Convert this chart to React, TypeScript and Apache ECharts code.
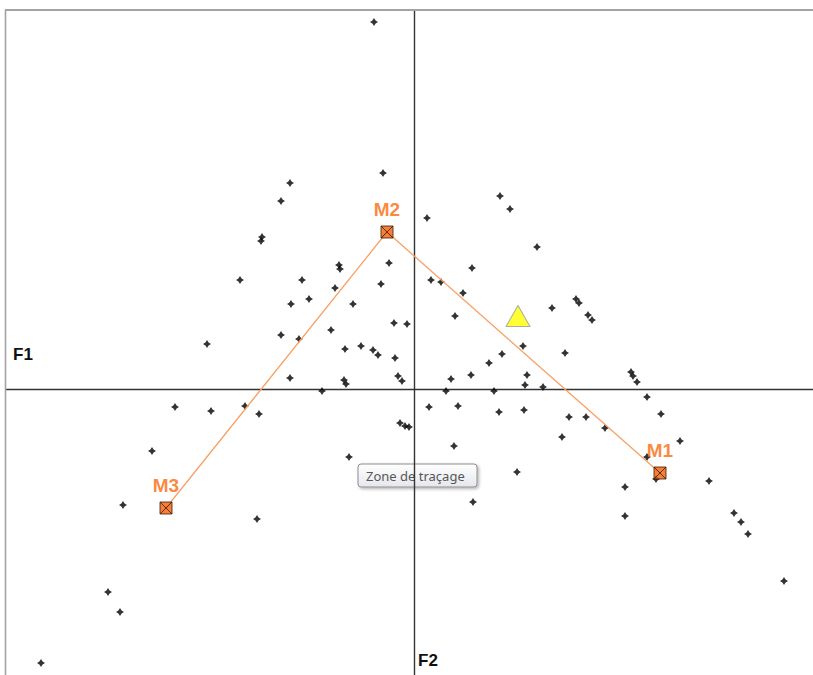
import React, { useEffect, useRef } from "react";
import * as echarts from "echarts";

// Factor-plane coordinates (F1 horizontal, F2 vertical) of the observations
const observations: [number, number][] = [
  [-0.40, 3.67], [-0.31, 2.16], [-1.24, 2.06], [-1.33, 1.88], [-1.52, 1.52],
  [-1.53, 1.48], [-1.74, 1.09], [-2.07, 0.45], [-1.12, 1.09], [-0.75, 1.24],
  [-0.74, 1.20], [-0.25, 1.26], [-0.33, 1.05], [-0.79, 1.01], [-1.05, 0.90],
  [-1.23, 0.85], [-0.61, 0.85], [-0.20, 0.66], [-0.07, 0.65], [-1.33, 0.54],
  [-1.15, 0.50], [-0.83, 0.59], [-0.69, 0.40], [-0.53, 0.43], [-0.41, 0.39],
  [-0.36, 0.34], [-0.19, 0.31], [-1.24, 0.11], [-0.70, 0.09], [-0.68, 0.05],
  [-0.16, 0.13], [-0.12, 0.08], [-0.92, -0.02], [-2.03, -0.22], [-1.69, -0.17],
  [-1.55, -0.25], [-0.14, -0.34], [-0.09, -0.37], [-0.05, -0.38], [0.13, 1.71],
  [0.17, 1.09], [0.15, -0.18], [0.86, 1.93], [0.96, 1.80], [1.23, 1.42],
  [0.58, 1.21], [0.27, 1.07], [0.49, 0.96], [0.41, 0.73], [1.62, 0.90],
  [1.65, 0.86], [1.38, 0.81], [1.74, 0.74], [1.78, 0.69], [1.09, 0.43],
  [0.88, 0.35], [0.75, 0.26], [1.51, 0.36], [0.37, 0.10], [0.57, 0.14],
  [1.13, 0.14], [1.11, 0.04], [1.29, 0.02], [0.32, -0.02], [0.80, -0.02],
  [2.17, 0.17], [2.19, 0.13], [2.23, 0.07], [2.33, -0.08], [2.47, -0.25],
  [0.44, -0.17], [0.85, -0.23], [1.10, -0.21], [1.55, -0.28], [1.72, -0.28],
  [1.91, -0.39], [0.40, -0.57], [1.48, -0.48], [2.33, -0.68], [2.42, -0.90],
  [2.11, -0.98], [1.03, -0.83], [0.59, -1.13], [2.66, -0.52], [-2.39, -0.18],
  [-2.62, -0.62], [-2.91, -1.16], [-3.06, -2.03], [-2.94, -2.23], [-3.73, -2.74],
  [-1.57, -1.30], [-0.65, -0.68], [2.95, -0.92], [3.20, -1.24], [3.27, -1.33],
  [3.34, -1.45], [3.70, -1.92], [2.11, -1.27],
];

// Class centroids, joined in the order M3 → M2 → M1
const centroidNames: string[] = ["M3", "M2", "M1"];
const centroidX: number[] = [-2.48, -0.27, 2.46];
const centroidY: number[] = [-1.19, 1.57, -0.84];

// Supplementary point (yellow triangle)
const supplementary: [number, number][] = [[1.04, 0.73]];

const axisNames = { x: "F1", y: "F2" };
const hintText = "Zone de traçage";

const starPath =
  "path://M0,-3.5 L1.4,-1.4 L3.5,0 L1.4,1.4 L0,3.5 L-1.4,1.4 L-3.5,0 L-1.4,-1.4 Z";
const boxCrossPath = "path://M0,0 L10,0 L10,10 L0,10 Z M0,0 L10,10 M10,0 L0,10";

const ORANGE = "#fa6a0a";

export default function App() {
  const ref = useRef<HTMLDivElement>(null);

  useEffect(() => {
    if (!ref.current) return;
    const chart = echarts.init(ref.current, undefined, { renderer: "svg" });

    const centroids = centroidNames.map((name, i) => ({
      name,
      value: [centroidX[i], centroidY[i]],
    }));

    chart.setOption({
      animation: false,
      backgroundColor: "#ffffff",
      grid: { left: 6, top: 10, right: 0, bottom: 0, containLabel: false },
      xAxis: {
        type: "value",
        min: -4.08,
        max: 3.99,
        axisLine: { onZero: true, lineStyle: { color: "#333333", width: 1.4 } },
        axisTick: { show: false },
        axisLabel: { show: false },
        splitLine: { show: false },
      },
      yAxis: {
        type: "value",
        min: -2.86,
        max: 3.79,
        axisLine: { onZero: true, lineStyle: { color: "#333333", width: 1.4 } },
        axisTick: { show: false },
        axisLabel: { show: false },
        splitLine: { show: false },
      },
      series: [
        {
          type: "scatter",
          data: observations,
          symbol: starPath,
          symbolSize: 8,
          itemStyle: { color: "#000000" },
          z: 2,
        },
        {
          type: "line",
          data: centroids.map((c) => c.value),
          symbol: "none",
          lineStyle: { color: "#f9a066", width: 1.3 },
          z: 3,
        },
        {
          type: "scatter",
          data: centroids,
          symbol: boxCrossPath,
          symbolSize: 12,
          itemStyle: { color: "#f46008", borderColor: "#3a1a08", borderWidth: 1 },
          label: {
            show: true,
            position: "top",
            distance: 7,
            formatter: (p: any) => p.name,
            color: ORANGE,
            fontFamily: "Liberation Sans, Arial, sans-serif",
            fontWeight: "bold",
            fontSize: 19,
          },
          z: 4,
        },
        {
          type: "scatter",
          data: supplementary,
          symbol: "triangle",
          symbolSize: [24, 21],
          itemStyle: { color: "#ffff00", borderColor: "#9a9a9a", borderWidth: 1 },
          z: 4,
        },
      ],
      graphic: [
        {
          type: "line",
          shape: { x1: 5.5, y1: 10, x2: 5.5, y2: 675 },
          style: { stroke: "#a3a3a3", lineWidth: 1.6 },
          z: 10,
        },
        {
          type: "line",
          shape: { x1: 5, y1: 10, x2: 813, y2: 10 },
          style: { stroke: "#a3a3a3", lineWidth: 2 },
          z: 10,
        },
        {
          type: "text",
          x: 13,
          y: 354,
          style: {
            text: axisNames.x,
            fill: "#111111",
            font: "bold 17px 'Liberation Sans', Arial, sans-serif",
            verticalAlign: "middle",
          },
          z: 10,
        },
        {
          type: "text",
          x: 418,
          y: 660,
          style: {
            text: axisNames.y,
            fill: "#111111",
            font: "bold 17px 'Liberation Sans', Arial, sans-serif",
            verticalAlign: "middle",
          },
          z: 10,
        },
        {
          type: "group",
          x: 358,
          y: 464,
          z: 20,
          children: [
            {
              type: "rect",
              shape: { x: 0, y: 0, width: 119, height: 23, r: 3 },
              style: {
                fill: new echarts.graphic.LinearGradient(0, 0, 0, 1, [
                  { offset: 0, color: "#ffffff" },
                  { offset: 1, color: "#e6e7ee" },
                ]),
                stroke: "#8e8e8e",
                lineWidth: 1,
                shadowBlur: 3,
                shadowOffsetX: 1.5,
                shadowOffsetY: 1.5,
                shadowColor: "rgba(0,0,0,0.3)",
              },
            },
            {
              type: "text",
              x: 8,
              y: 12,
              style: {
                text: hintText,
                fill: "#575757",
                font: "13px 'Noto Sans', 'Open Sans', sans-serif",
                verticalAlign: "middle",
              },
            },
          ],
        },
      ],
    });

    return () => chart.dispose();
  }, []);

  return (
    <div
      ref={ref}
      style={{ position: "fixed", left: 0, top: 0, width: 813, height: 675, background: "#fff" }}
    />
  );
}
